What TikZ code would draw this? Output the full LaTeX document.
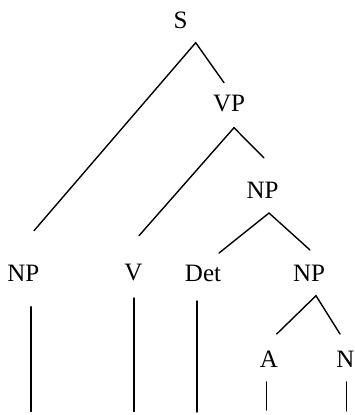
\documentclass[tikz,border=0pt]{standalone}
\usepackage{fontspec}
\setmainfont{Liberation Serif}
\begin{document}
\begin{tikzpicture}[x=1pt,y=-1pt,
  cat/.style={font=\fontsize{25}{28}\selectfont, inner sep=0pt, anchor=center},
  branch/.style={line width=1.4pt, line cap=round}]
\useasboundingbox (0,0) rectangle (355,415);
% category labels
\node[cat] (s)   at (180.5,20)  {S};
\node[cat] (vp)  at (229,104)   {VP};
\node[cat] (np1) at (262.5,190) {NP};
\node[cat] (np0) at (23.3,273)  {NP};
\node[cat] (v)   at (133.3,273) {V};
\node[cat] (det) at (203,273)   {Det};
\node[cat] (np2) at (309,273.5) {NP};
\node[cat] (a)   at (269,359.5) {A};
\node[cat] (n)   at (345.3,359.5) {N};
% branch points and line ends
\coordinate (sTop)  at (195.7,42.7);
\coordinate (sL)    at (34,230.7);
\coordinate (sR)    at (224,82.7);
\coordinate (vpTop) at (234,127.7);
\coordinate (vpL)   at (139,235.7);
\coordinate (vpR)   at (264,158);
\coordinate (np1Top) at (269,213);
\coordinate (np1L)  at (219,253);
\coordinate (np1R)  at (310,250);
\coordinate (np2Top) at (316,295.7);
\coordinate (np2L)  at (276.7,334);
\coordinate (np2R)  at (340,334);
\coordinate (np0a) at (31,306.7);  \coordinate (np0b) at (31,411.5);
\coordinate (va)   at (134,298);   \coordinate (vb)   at (134,411.5);
\coordinate (deta) at (197,301);   \coordinate (detb) at (197,412);
\coordinate (aa)   at (266.7,382); \coordinate (ab)   at (266.7,410);
\coordinate (na)   at (346.7,382); \coordinate (nb)   at (346.7,411);
% branches
\draw[branch] (sL) -- (sTop) -- (sR);
\draw[branch] (vpL) -- (vpTop) -- (vpR);
\draw[branch] (np1L) -- (np1Top) -- (np1R);
\draw[branch] (np2L) -- (np2Top) -- (np2R);
\draw[branch] (np0a) -- (np0b);
\draw[branch] (va) -- (vb);
\draw[branch] (deta) -- (detb);
\draw[branch] (aa) -- (ab);
\draw[branch] (na) -- (nb);
\end{tikzpicture}
\end{document}
